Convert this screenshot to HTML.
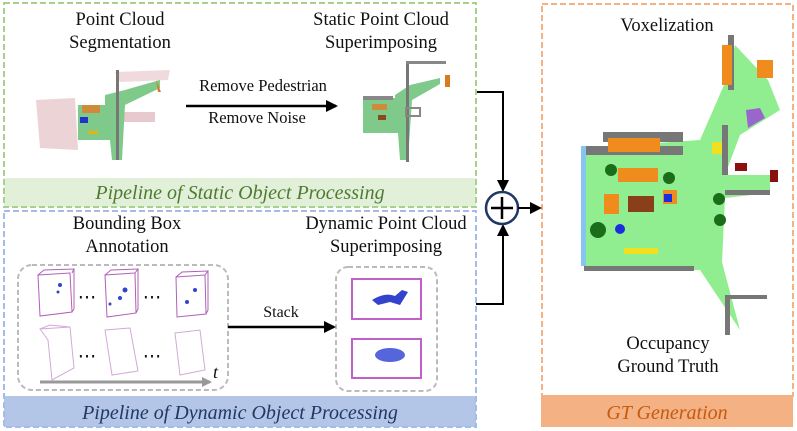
<!DOCTYPE html>
<html><head><meta charset="utf-8"><style>
html,body{margin:0;padding:0;background:#fff}
svg{display:block}
text{font-family:"Liberation Serif",serif;font-size:18.5px;fill:#111}
.it{font-style:italic;font-size:20px}
</style></head><body>
<svg width="797" height="431" viewBox="0 0 797 431" xmlns="http://www.w3.org/2000/svg">
<defs><marker id="ah" markerWidth="10" markerHeight="10" refX="8" refY="5" orient="auto" markerUnits="userSpaceOnUse"><path d="M0,0 L10,5 L0,10z" fill="#999"/></marker>
<marker id="ah2" markerWidth="12" markerHeight="12" refX="10" refY="6" orient="auto" markerUnits="userSpaceOnUse"><path d="M0,0 L12,6 L0,12z" fill="#000"/></marker></defs>

<rect x="4" y="178" width="472" height="29" fill="#e2efd9"/>
<rect x="4" y="3" width="472" height="204" fill="none" stroke="#a9d18e" stroke-width="2" stroke-dasharray="6,3"/>
<text x="240" y="199" text-anchor="middle" class="it" style="fill:#4e7a32">Pipeline  of  Static Object Processing</text>
<rect x="4" y="396" width="472" height="31" fill="#b4c6e7"/>
<rect x="4" y="211" width="472" height="216" fill="none" stroke="#a4bde8" stroke-width="2" stroke-dasharray="6,3"/>
<text x="240" y="419" text-anchor="middle" class="it" style="fill:#203864">Pipeline  of  Dynamic Object Processing</text>
<rect x="541" y="395" width="252" height="32" fill="#f4b183"/>
<rect x="542" y="4" width="251" height="392" fill="none" stroke="#f4b183" stroke-width="2" stroke-dasharray="6,3"/>
<text x="667" y="419" text-anchor="middle" class="it" style="fill:#c55a11">GT Generation</text>

<text x="120" y="25" text-anchor="middle">Point Cloud</text>
<text x="120" y="48" text-anchor="middle">Segmentation</text>
<text x="381" y="25" text-anchor="middle">Static Point Cloud</text>
<text x="381" y="48" text-anchor="middle">Superimposing</text>
<text x="263" y="91" text-anchor="middle" style="font-size:16.5px">Remove Pedestrian</text>
<text x="257" y="123" text-anchor="middle" style="font-size:16.5px">Remove Noise</text>
<line x1="186" y1="106" x2="336" y2="106" stroke="#000" stroke-width="2.5" marker-end="url(#ah2)"/>

<g>
<path d="M36,100 L75,98 L78,150 L40,148z" fill="#ecd3d6"/>
<path d="M115,72 L170,70 L168,80 L120,82z" fill="#f0dadd"/>
<rect x="120" y="112" width="35" height="10" fill="#e8cace"/>
<rect x="78" y="105" width="30" height="35" fill="#7fc98a"/>
<path d="M105,95 L125,90 L160,80 L160,88 L125,105 L122,160 L112,160 L110,140 L105,140z" fill="#7fc98a"/>
<rect x="82" y="105" width="18" height="8" fill="#d08a3a"/>
<rect x="80" y="117" width="8" height="6" fill="#2233cc"/>
<rect x="88" y="131" width="10" height="3" fill="#e5b30f"/>
<rect x="116" y="70" width="3" height="90" fill="#777"/>
<path d="M156,80 L158,92 L161,92z" fill="#d87a20"/>
</g>
<g>
<rect x="363" y="98" width="38" height="35" fill="#7fc98a"/>
<path d="M395,95 L410,85 L440,78 L440,84 L412,100 L408,160 L400,160 L398,133 L395,133z" fill="#7fc98a"/>
<rect x="363" y="96" width="30" height="4" fill="#888"/>
<rect x="406" y="62" width="3" height="100" fill="#777"/>
<rect x="406" y="61" width="40" height="3" fill="#888"/>
<rect x="372" y="104" width="15" height="6" fill="#d08a3a"/>
<rect x="378" y="115" width="8" height="5" fill="#8a4a1e"/>
<rect x="445" y="75" width="5" height="12" fill="#d87a20"/>
<rect x="406" y="108" width="14" height="8" fill="none" stroke="#888" stroke-width="2"/>
</g>

<text x="127" y="229" text-anchor="middle">Bounding Box</text>
<text x="127" y="252" text-anchor="middle">Annotation</text>
<text x="386" y="229" text-anchor="middle">Dynamic Point Cloud</text>
<text x="386" y="252" text-anchor="middle">Superimposing</text>
<rect x="18" y="265" width="210" height="125" rx="14" fill="none" stroke="#bbb" stroke-width="2" stroke-dasharray="5,3"/>
<rect x="336" y="267" width="101" height="124" rx="12" fill="none" stroke="#bbb" stroke-width="2" stroke-dasharray="5,3"/>
<g fill="none" stroke="#b060b8" stroke-width="1">
<path d="M38,275 L70,273 L72,312 L40,316z M38,275 L44,270 L74,269 L72,273 M72,312 L74,309 L74,269"/>
<path d="M105,275 L135,273 L136,313 L107,317z M105,275 L111,270 L138,269 L135,273 M136,313 L138,309 L138,269"/>
<path d="M176,277 L205,275 L206,314 L177,317z M176,277 L182,272 L208,271 L205,275 M206,314 L208,310 L208,271"/>
</g>
<g fill="none" stroke="#d4a8d8" stroke-width="1">
<path d="M40,329 L70,327 L74,368 L52,380 L48,340z M40,329 L50,325 L70,327"/>
<path d="M105,330 L130,328 L138,371 L112,375z"/>
<path d="M175,333 L200,330 L205,370 L180,375z"/>
</g>
<g fill="#3344cc"><circle cx="60" cy="285" r="2"/><circle cx="58" cy="292" r="1.5"/><circle cx="125" cy="290" r="2.5"/><circle cx="120" cy="298" r="2"/><circle cx="110" cy="304" r="1.5"/><circle cx="195" cy="290" r="2"/><circle cx="187" cy="302" r="2"/></g>
<text x="87" y="303" text-anchor="middle">⋯</text><text x="152" y="303" text-anchor="middle">⋯</text>
<text x="87" y="362" text-anchor="middle">⋯</text><text x="152" y="362" text-anchor="middle">⋯</text>
<line x1="40" y1="382" x2="210" y2="382" stroke="#999" stroke-width="3" marker-end="url(#ah)"/>
<text x="213" y="378" class="it" style="font-size:18px">t</text>
<line x1="228" y1="327" x2="334" y2="327" stroke="#000" stroke-width="2.5" marker-end="url(#ah2)"/>
<text x="281" y="317" text-anchor="middle" style="font-size:16px">Stack</text>
<rect x="352" y="279" width="69" height="40" fill="none" stroke="#c060c8" stroke-width="2"/>
<rect x="352" y="339" width="69" height="39" fill="none" stroke="#c060c8" stroke-width="2"/>
<path d="M372,300 Q385,292 395,296 L402,290 L408,292 L400,305 L390,302 L378,305z" fill="#3344cc"/>
<ellipse cx="390" cy="355" rx="15" ry="7" fill="#5566dd"/>

<polyline points="477,92 503,92 503,190" fill="none" stroke="#000" stroke-width="2" marker-end="url(#ah2)"/>
<polyline points="476,304 503,304 503,226" fill="none" stroke="#000" stroke-width="2" marker-end="url(#ah2)"/>
<circle cx="502" cy="208" r="16" fill="#fff" stroke="#1f3864" stroke-width="2.5"/>
<line x1="491" y1="208" x2="513" y2="208" stroke="#000" stroke-width="2.5"/>
<line x1="502" y1="197" x2="502" y2="219" stroke="#000" stroke-width="2.5"/>
<line x1="518" y1="208" x2="540" y2="208" stroke="#000" stroke-width="2" marker-end="url(#ah2)"/>

<text x="667" y="31" text-anchor="middle">Voxelization</text>
<text x="668" y="349" text-anchor="middle">Occupancy</text>
<text x="668" y="372" text-anchor="middle">Ground Truth</text>

<path d="M585,148 L700,140 L724,85 L735,45 L768,80 L780,110 L740,135 L725,175 L770,175 L770,193 L725,198 L722,262 L740,330 L720,300 L700,270 L585,268z" fill="#90ee90"/>
<rect x="583" y="146" width="100" height="9" fill="#777"/>
<rect x="603" y="132" width="80" height="10" fill="#777"/>
<rect x="581" y="146" width="5" height="120" fill="#88c4f0"/>
<rect x="584" y="266" width="110" height="5" fill="#777"/>
<rect x="722" y="125" width="6" height="50" fill="#777"/>
<rect x="725" y="190" width="45" height="5" fill="#777"/>
<rect x="728" y="35" width="6" height="55" fill="#777"/>
<rect x="725" y="295" width="5" height="40" fill="#777"/>
<rect x="727" y="295" width="40" height="4" fill="#777"/>
<rect x="608" y="138" width="52" height="14" fill="#f08c1e"/>
<rect x="618" y="168" width="40" height="14" fill="#f08c1e"/>
<rect x="604" y="194" width="15" height="20" fill="#f08c1e"/>
<rect x="628" y="196" width="26" height="16" fill="#8b3e1a"/>
<rect x="663" y="190" width="14" height="14" fill="#f08c1e"/>
<rect x="664" y="194" width="8" height="8" fill="#1a2ee0"/>
<circle cx="611" cy="170" r="6" fill="#1a6e1a"/><circle cx="669" cy="178" r="6" fill="#1a6e1a"/>
<circle cx="598" cy="230" r="8" fill="#1a6e1a"/><circle cx="620" cy="229" r="5" fill="#1a2ee0"/>
<rect x="624" y="248" width="34" height="6" fill="#f0e020"/>
<rect x="712" y="142" width="10" height="12" fill="#f0e020"/>
<rect x="722" y="45" width="10" height="40" fill="#f08c1e"/>
<rect x="757" y="60" width="16" height="18" fill="#f08c1e"/>
<path d="M746,110 L760,108 L765,118 L748,128z" fill="#9966cc"/>
<rect x="735" y="163" width="12" height="8" fill="#8b1010"/>
<rect x="770" y="170" width="8" height="12" fill="#8b1010"/>
<circle cx="719" cy="199" r="6" fill="#1a6e1a"/><circle cx="720" cy="220" r="6" fill="#1a6e1a"/>
</svg>
</body></html>
